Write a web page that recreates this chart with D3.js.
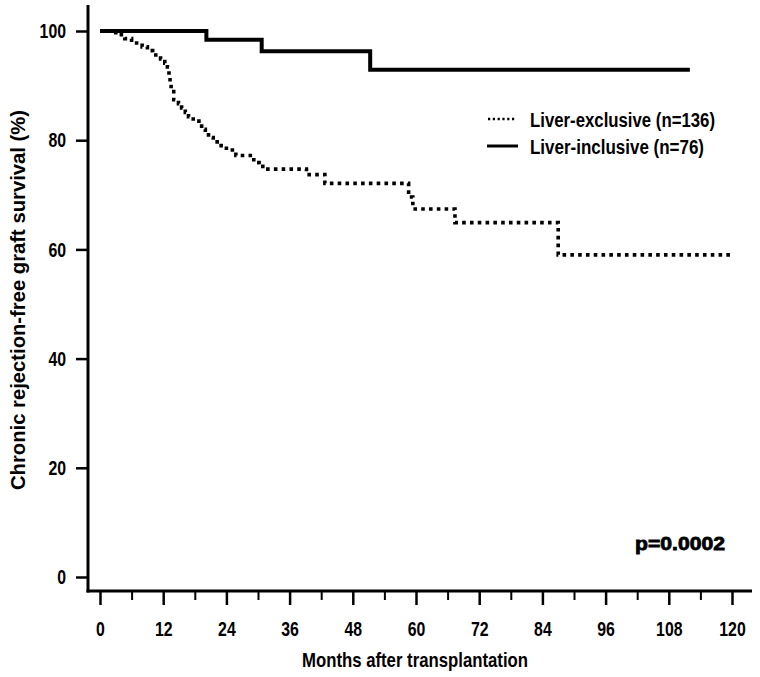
<!DOCTYPE html>
<html><head><meta charset="utf-8">
<script src="https://cdn.jsdelivr.net/npm/d3@7"></script>
<style>body{margin:0;background:#fff}svg{display:block}</style>
</head><body><svg id="c" width="760" height="677"></svg>
<script>
// ---- data ----
const xTicks = [0, 12, 24, 36, 48, 60, 72, 84, 96, 108, 120];
const xMinorTicks = [6, 18, 30, 42, 54, 66, 78, 90, 102, 114];
const yTicks = [0, 20, 40, 60, 80, 100];
const seriesNames = ["Liver-exclusive (n=136)", "Liver-inclusive (n=76)"];
const exclusiveMonths = [0, 3, 4.7, 6, 8, 9, 10, 11.5, 12.3, 12.8, 13.1, 13.3, 13.5, 14, 14.9, 15.5, 16.2, 16.8, 17.7, 19.3, 20, 20.6, 21.5, 23, 24, 25.8, 29.2, 30.2, 31.3, 39.2, 42.7, 58.6, 59.4, 67.4, 87, 120];
const exclusiveSurvival = [100, 99.3, 98.6, 97.8, 97.1, 96.4, 95.6, 94.9, 94.1, 93.4, 91.9, 90.4, 88.9, 87.4, 86.7, 85.9, 85.1, 84.3, 83.5, 82.0, 81.3, 80.5, 79.7, 79.0, 78.2, 77.2, 75.9, 75.2, 74.7, 73.7, 72.1, 69.6, 67.4, 64.9, 59.0, 59.0];
const inclusiveMonths = [0, 20.2, 30.7, 51.3, 112];
const inclusiveSurvival = [100, 98.4, 96.3, 92.9, 92.9];
const pText = "p=0.0002";
const xTitle = "Months after transplantation";
const yTitle = "Chronic rejection-free graft survival (%)";

// ---- drawing ----
const FONT = "'Liberation Sans',Arial,sans-serif";
const DIGIT_W = 8.8; // condensed look: per-character width of tick labels
const svg = d3.select("#c");
svg.append("rect").attr("width", 760).attr("height", 677).attr("fill", "#fff");

const x = d3.scaleLinear().domain([0, 120]).range([100, 732]);
const y = d3.scaleLinear().domain([0, 100]).range([577, 31]);
const axisX0 = 88, axisY0 = 591;

// axis lines
svg.append("line").attr("x1", axisX0).attr("x2", axisX0).attr("y1", 5).attr("y2", axisY0 + 1.5)
  .attr("stroke", "#000").attr("stroke-width", 3);
svg.append("line").attr("x1", axisX0 - 1.5).attr("x2", 752).attr("y1", axisY0).attr("y2", axisY0)
  .attr("stroke", "#000").attr("stroke-width", 3);

function styleTickText(sel) {
  sel.attr("font-family", FONT).attr("font-weight", "bold").attr("font-size", 21).attr("fill", "#000")
    .attr("textLength", function () { return this.textContent.length * DIGIT_W; })
    .attr("lengthAdjust", "spacingAndGlyphs");
}

// y axis
const gy = svg.append("g").attr("transform", `translate(${axisX0},0)`)
  .call(d3.axisLeft(y).tickValues(yTicks).tickSize(12).tickPadding(10).tickFormat(d3.format("d")));
gy.select(".domain").remove();
gy.selectAll(".tick line").attr("stroke", "#000").attr("stroke-width", 2.5);
gy.selectAll(".tick text").call(styleTickText);

// x axis major
const gx = svg.append("g").attr("transform", `translate(0,${axisY0})`)
  .call(d3.axisBottom(x).tickValues(xTicks).tickSize(14).tickPadding(16).tickFormat(d3.format("d")));
gx.select(".domain").remove();
gx.selectAll(".tick line").attr("stroke", "#000").attr("stroke-width", 2.5);
gx.selectAll(".tick text").call(styleTickText);
// x axis minor
const gxm = svg.append("g").attr("transform", `translate(0,${axisY0})`)
  .call(d3.axisBottom(x).tickValues(xMinorTicks).tickSize(9).tickFormat(""));
gxm.select(".domain").remove();
gxm.selectAll(".tick line").attr("stroke", "#000").attr("stroke-width", 2);

// titles
svg.append("text").attr("x", 415).attr("y", 667).attr("text-anchor", "middle")
  .attr("font-family", FONT).attr("font-weight", "bold").attr("font-size", 21)
  .attr("textLength", 226).attr("lengthAdjust", "spacingAndGlyphs").text(xTitle);
svg.append("text").attr("transform", "translate(25,300) rotate(-90)").attr("text-anchor", "middle")
  .attr("font-family", FONT).attr("font-weight", "bold").attr("font-size", 20)
  .attr("textLength", 380).attr("lengthAdjust", "spacingAndGlyphs").text(yTitle);

// curves
const line = d3.line().x(d => x(d[0])).y(d => y(d[1])).curve(d3.curveStepAfter);
const exData = exclusiveMonths.map((m, i) => [m, exclusiveSurvival[i]]);
const inData = inclusiveMonths.map((m, i) => [m, inclusiveSurvival[i]]);
svg.append("path").attr("d", line(inData)).attr("fill", "none").attr("stroke", "#000")
  .attr("stroke-width", 4);
svg.append("path").attr("d", line(exData)).attr("fill", "none").attr("stroke", "#000")
  .attr("stroke-width", 3.6).attr("stroke-dasharray", "3.6 4.2");

// legend
const legendWidths = [185, 174];
const leg = svg.append("g");
leg.append("line").attr("x1", 488).attr("x2", 516).attr("y1", 119).attr("y2", 119)
  .attr("stroke", "#000").attr("stroke-width", 2.5).attr("stroke-dasharray", "2.2 2.6");
leg.append("line").attr("x1", 487).attr("x2", 518).attr("y1", 146).attr("y2", 146)
  .attr("stroke", "#000").attr("stroke-width", 3);
leg.selectAll("text.lg").data(seriesNames).join("text").attr("class", "lg")
  .attr("x", 530).attr("y", (d, i) => 126.5 + i * 27)
  .attr("font-family", FONT).attr("font-weight", "bold").attr("font-size", 20)
  .attr("textLength", (d, i) => legendWidths[i]).attr("lengthAdjust", "spacingAndGlyphs")
  .text(d => d);

// p-value
svg.append("text").attr("x", 635).attr("y", 550).attr("font-family", FONT)
  .attr("font-weight", "bold").attr("font-size", 19).attr("stroke", "#000").attr("stroke-width", 0.8)
  .attr("textLength", 90).attr("lengthAdjust", "spacingAndGlyphs").text(pText);
</script></body></html>
